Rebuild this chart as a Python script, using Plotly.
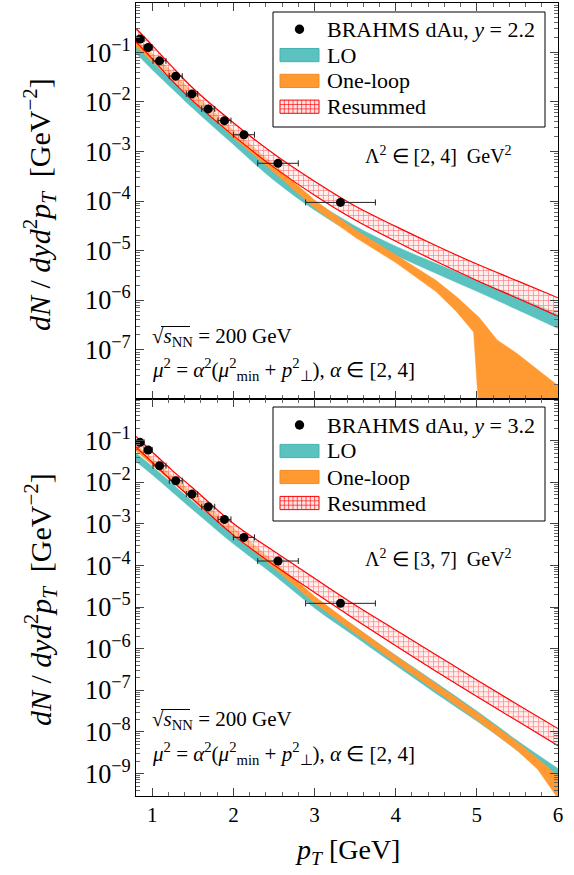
import plotly.graph_objects as go

# ---------------- data ----------------
# BRAHMS points (pT in GeV), horizontal bin half-widths
pt_data = [0.85, 0.95, 1.09, 1.29, 1.49, 1.69, 1.89, 2.13, 2.55, 3.32]
pt_err = [0.05, 0.05, 0.08, 0.08, 0.07, 0.08, 0.08, 0.13, 0.25, 0.43]
brahms_y22 = [0.185, 0.125, 0.0673, 0.0331, 0.0145, 0.00722, 0.00419, 0.00218, 5.78e-4, 9.4e-5]
brahms_y32 = [0.091, 0.0594, 0.0249, 0.01087, 0.0052, 0.00258, 0.00128, 4.73e-4, 1.28e-4, 1.23e-5]

# theory bands, log10 of dN/dy d^2pT
pt_grid = [0.8, 1.0, 1.25, 1.5, 2.0, 2.5, 3.0, 3.5, 4.0, 4.5, 5.0, 5.5, 6.0]

# y = 2.2
lo_up_22 = [-0.86, -1.19, -1.58, -1.95, -2.68, -3.40, -4.00, -4.50, -4.91, -5.26, -5.60, -5.93, -6.27]
lo_dn_22 = [-1.02, -1.35, -1.74, -2.13, -2.86, -3.58, -4.18, -4.68, -5.09, -5.46, -5.82, -6.19, -6.57]
rs_up_22 = [-0.52, -0.86, -1.30, -1.72, -2.42, -3.05, -3.60, -4.10, -4.51, -4.90, -5.27, -5.61, -5.95]
rs_dn_22 = [-0.79, -1.13, -1.58, -1.98, -2.68, -3.32, -3.88, -4.38, -4.81, -5.22, -5.60, -5.96, -6.32]
pt_grid_1l_22 = [0.8, 1.0, 1.25, 1.5, 2.0, 2.5, 3.0, 3.5, 4.0, 4.5, 4.75, 4.96, 5.015, 5.03, 5.25, 5.5, 5.75, 6.0]
ol_up_22 = [-0.74, -1.02, -1.40, -1.80, -2.57, -3.26, -3.98, -4.58, -5.08, -5.60, -5.93, -6.25, -6.33, -6.35, -6.80, -7.08, -7.40, -7.72]
ol_dn_22 = [-0.88, -1.18, -1.57, -1.96, -2.72, -3.42, -4.14, -4.73, -5.24, -5.83, -6.23, -6.64, -8.0, -12, -12, -12, -12, -12]

# y = 3.2
lo_up_32 = [-1.30, -1.62, -2.04, -2.46, -3.26, -4.01, -4.78, -5.47, -6.16, -6.82, -7.50, -8.21, -8.88]
lo_dn_32 = [-1.50, -1.82, -2.24, -2.66, -3.48, -4.23, -5.02, -5.71, -6.40, -7.08, -7.74, -8.45, -9.28]
pt_grid_1l_32 = [0.8, 1.0, 1.25, 1.5, 2.0, 2.5, 3.0, 3.5, 4.0, 4.5, 5.0, 5.5, 5.75, 6.0]
ol_up_32 = [-1.09, -1.42, -1.84, -2.26, -3.10, -3.90, -4.74, -5.47, -6.17, -6.85, -7.53, -8.25, -8.64, -9.06]
ol_dn_32 = [-1.25, -1.58, -2.00, -2.42, -3.26, -4.06, -4.90, -5.63, -6.33, -7.01, -7.71, -8.45, -8.90, -9.60]
rs_up_32 = [-0.90, -1.27, -1.72, -2.14, -2.99, -3.66, -4.31, -4.95, -5.55, -6.15, -6.75, -7.34, -7.92]
rs_dn_32 = [-1.15, -1.52, -1.98, -2.41, -3.27, -3.99, -4.65, -5.30, -5.93, -6.55, -7.15, -7.74, -8.33]

legend_labels = ["BRAHMS dAu, <i>y</i> = 2.2", "BRAHMS dAu, <i>y</i> = 3.2", "LO", "One-loop", "Resummed"]

# ---------------- styling ----------------
TEAL = "#5BC2BF"
TEAL_EDGE = "#45B3AF"
ORANGE = "#FF9A33"
ORANGE_EDGE = "#F58A1F"
RED = "#FF0000"
SERIF = "Liberation Serif"

W, H = 574, 875
ML, MR, MT, MB = 136, 16, 3, 79
SPLIT = 0.5004

fig = go.Figure()


def p10(vals):
    return [10 ** v for v in vals]


def add_band(x, up, dn, color, name, xa, ya, pattern=False, edge=0.0, shape="spline"):
    lw = edge if edge else 0.5
    fig.add_trace(go.Scatter(
        x=x, y=p10(dn), mode="lines", xaxis=xa, yaxis=ya,
        line=dict(color=color, width=lw, shape=shape),
        showlegend=False, hoverinfo="skip"))
    kw = {}
    if pattern:
        kw["fillpattern"] = dict(shape="+", fgcolor="rgba(255,0,0,0.9)", bgcolor="rgba(255,225,225,0.55)",
                                 size=5, solidity=0.26)
        kw["fillcolor"] = "rgba(255,200,200,0.4)"
    else:
        kw["fillcolor"] = color
    fig.add_trace(go.Scatter(
        x=x, y=p10(up), mode="lines", xaxis=xa, yaxis=ya, fill="tonexty",
        line=dict(color=color, width=lw, shape=shape),
        name=name, showlegend=False, hoverinfo="skip", **kw))


panels = [
    dict(xa="x", ya="y", lab=legend_labels[0], data=brahms_y22,
         lo=(lo_up_22, lo_dn_22), ol=(pt_grid_1l_22, ol_up_22, ol_dn_22), rs=(rs_up_22, rs_dn_22)),
    dict(xa="x2", ya="y2", lab=legend_labels[1], data=brahms_y32,
         lo=(lo_up_32, lo_dn_32), ol=(pt_grid_1l_32, ol_up_32, ol_dn_32), rs=(rs_up_32, rs_dn_32)),
]

for p in panels:
    add_band(pt_grid, p["lo"][0], p["lo"][1], TEAL, legend_labels[2], p["xa"], p["ya"])
    add_band(p["ol"][0], p["ol"][1], p["ol"][2], ORANGE, legend_labels[3], p["xa"], p["ya"],
             shape="linear")
    add_band(pt_grid, p["rs"][0], p["rs"][1], RED, legend_labels[4], p["xa"], p["ya"],
             pattern=True, edge=1.2)
    fig.add_trace(go.Scatter(
        x=pt_data, y=p["data"], mode="markers", xaxis=p["xa"], yaxis=p["ya"],
        marker=dict(color="black", size=9),
        error_x=dict(type="data", array=pt_err, color="#222222", thickness=1, width=3),
        name=p["lab"], showlegend=False))

axis_common = dict(showline=True, linecolor="black", linewidth=1, mirror="ticks",
                   ticks="inside", tickcolor="#444444", showgrid=False, zeroline=False,
                   tickfont=dict(family=SERIF, size=21, color="black"))

xaxis_common = dict(axis_common, range=[0.8, 6.0001], dtick=1, tick0=0, ticklen=8,
                    minor=dict(ticks="inside", dtick=0.2, ticklen=4, tickcolor="#666666", showgrid=False))

yaxis_common = dict(axis_common, type="log", dtick=1, ticklen=8, exponentformat="power",
                    minor=dict(ticks="inside", ticklen=4, tickcolor="#666666", showgrid=False))

fig.update_layout(
    width=W, height=H, margin=dict(l=ML, r=MR, t=MT, b=MB),
    plot_bgcolor="white", paper_bgcolor="white", showlegend=False,
    xaxis=dict(xaxis_common, anchor="y", showticklabels=False, matches="x2"),
    yaxis=dict(yaxis_common, anchor="x", domain=[SPLIT, 1], range=[-7.995, -0.005]),
    xaxis2=dict(xaxis_common, anchor="y2"),
    yaxis2=dict(yaxis_common, anchor="x2", domain=[0, SPLIT], range=[-9.54, -0.004]),
)


def px2paper(px, py):
    return (px - ML) / (W - ML - MR), (H - MB - py) / (H - MT - MB)


def rect(px0, py0, px1, py1, **kw):
    x0, y1 = px2paper(px0, py0)
    x1, y0 = px2paper(px1, py1)
    fig.add_shape(type=kw.pop("type", "rect"), xref="paper", yref="paper",
                  x0=x0, x1=x1, y0=y0, y1=y1, layer="above", **kw)


def line(px0, py0, px1, py1, color, width):
    x0, y0 = px2paper(px0, py0)
    x1, y1 = px2paper(px1, py1)
    fig.add_shape(type="line", xref="paper", yref="paper", x0=x0, x1=x1, y0=y0, y1=y1,
                  layer="above", line=dict(color=color, width=width))


def text(t, px, py, size, **kw):
    xp, yp = px2paper(px, py)
    fig.add_annotation(text=t, x=xp, y=yp, xref="paper", yref="paper",
                       xanchor=kw.pop("xanchor", "left"), yanchor="middle", showarrow=False,
                       font=dict(family=SERIF, size=size, color="black"), **kw)


# ---------------- legends (drawn as boxes, swatches and text) ----------------
SW0, SW1, HH = 280, 319, 6.6
for box_top, box_bot, rows, lab in [(12, 127, [29.3, 55.1, 80.9, 106.7], legend_labels[0]),
                                   (407, 521, [425.0, 451.0, 477.0, 503.0], legend_labels[1])]:
    rect(273, box_top, 545, box_bot, fillcolor="white", line=dict(color="black", width=1))
    r = 4.7
    rect(299.5 - r, rows[0] - r, 299.5 + r, rows[0] + r, type="circle", fillcolor="black",
         line=dict(color="black", width=0))
    rect(SW0, rows[1] - HH, SW1, rows[1] + HH, fillcolor=TEAL, line=dict(color=TEAL_EDGE, width=1))
    rect(SW0, rows[2] - HH, SW1, rows[2] + HH, fillcolor=ORANGE, line=dict(color=ORANGE_EDGE, width=1))
    rect(SW0, rows[3] - HH, SW1, rows[3] + HH, fillcolor="rgba(255,210,210,0.6)",
         line=dict(color=RED, width=1))
    for k in range(1, 9):
        xx = SW0 + (SW1 - SW0) * k / 9
        line(xx, rows[3] - HH, xx, rows[3] + HH, "rgba(255,0,0,0.8)", 0.8)
    for dy in (-2.2, 2.2):
        line(SW0, rows[3] + dy, SW1, rows[3] + dy, "rgba(255,0,0,0.8)", 0.8)
    for t, ry in zip([lab] + legend_labels[2:], rows):
        text(t, 325, ry, 22)

# ---------------- annotations ----------------
mu_txt = ("<i>μ</i><sup>2</sup> = <i>α</i><sup>2</sup>(<i>μ</i><sup>2</sup><sub>min</sub> + "
          "<i>p</i><sup>2</sup><sub>⊥</sub>), <i>α</i> ∈ [2, 4]")
texts = [
    ("Λ<sup>2</sup> ∈ [2, 4]  GeV<sup>2</sup>", 363, 155, 20),
    ("√<i>s</i><sub>NN</sub> = 200 GeV", 150, 337, 21),
    (mu_txt, 150, 370, 21),
    ("Λ<sup>2</sup> ∈ [3, 7]  GeV<sup>2</sup>", 363, 558, 20),
    ("√<i>s</i><sub>NN</sub> = 200 GeV", 150, 720, 21),
    (mu_txt, 150, 753, 21),
]
for t, px, py, s in texts:
    text(t, px, py, s)

# vinculum of the square-root signs
for py in (326.5, 709.5):
    line(161, py, 190, py, "black", 1)

ytitle = "<i>dN</i> / <i>dyd</i><sup>2</sup><i>p<sub>T</sub></i>  [GeV<sup>−2</sup>]"
for py in (205, 600):
    text(ytitle, 40, py, 30, xanchor="center", textangle=-90)

text("<i>p<sub>T</sub></i> [GeV]", 347, 851, 28, xanchor="center")

fig.write_html("out.html", post_script="document.body.style.margin='0';",
               config={"displayModeBar": False})
